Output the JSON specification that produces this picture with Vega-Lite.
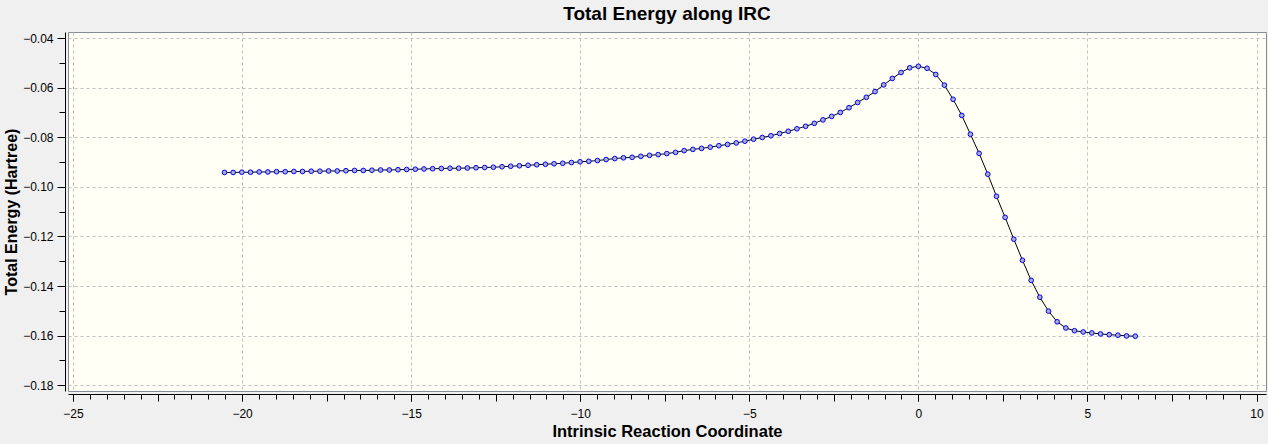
{
  "$schema": "https://vega.github.io/schema/vega-lite/v6.json",
  "width": 1198,
  "height": 359,
  "autosize": "none",
  "padding": {"left": 68, "top": 32, "right": 2, "bottom": 53},
  "background": "#f0f0f0",
  "title": {"text": "Total Energy along IRC", "fontSize": 19, "fontWeight": "bold", "font": "Liberation Sans", "color": "black", "anchor": "middle", "offset": 8},
  "data": {"values": [
    {"x": -20.520, "e": -0.0942}, {"x": -20.264, "e": -0.0942}, {"x": -20.007, "e": -0.0941}, {"x": -19.751, "e": -0.0941},
    {"x": -19.494, "e": -0.0940}, {"x": -19.238, "e": -0.0940}, {"x": -18.981, "e": -0.0939}, {"x": -18.725, "e": -0.0939},
    {"x": -18.468, "e": -0.0938}, {"x": -18.212, "e": -0.0938}, {"x": -17.955, "e": -0.0937}, {"x": -17.699, "e": -0.0937},
    {"x": -17.442, "e": -0.0936}, {"x": -17.186, "e": -0.0936}, {"x": -16.929, "e": -0.0935}, {"x": -16.673, "e": -0.0934},
    {"x": -16.416, "e": -0.0934}, {"x": -16.160, "e": -0.0933}, {"x": -15.903, "e": -0.0932}, {"x": -15.647, "e": -0.0932},
    {"x": -15.390, "e": -0.0931}, {"x": -15.134, "e": -0.0930}, {"x": -14.877, "e": -0.0929}, {"x": -14.621, "e": -0.0928},
    {"x": -14.364, "e": -0.0927}, {"x": -14.108, "e": -0.0926}, {"x": -13.851, "e": -0.0925}, {"x": -13.595, "e": -0.0925},
    {"x": -13.338, "e": -0.0924}, {"x": -13.082, "e": -0.0923}, {"x": -12.825, "e": -0.0922}, {"x": -12.569, "e": -0.0921},
    {"x": -12.312, "e": -0.0919}, {"x": -12.056, "e": -0.0917}, {"x": -11.799, "e": -0.0915}, {"x": -11.543, "e": -0.0913},
    {"x": -11.286, "e": -0.0911}, {"x": -11.030, "e": -0.0909}, {"x": -10.773, "e": -0.0907}, {"x": -10.517, "e": -0.0905},
    {"x": -10.260, "e": -0.0902}, {"x": -10.004, "e": -0.0899}, {"x": -9.747, "e": -0.0897}, {"x": -9.491, "e": -0.0894},
    {"x": -9.234, "e": -0.0890}, {"x": -8.978, "e": -0.0886}, {"x": -8.721, "e": -0.0883}, {"x": -8.465, "e": -0.0881},
    {"x": -8.208, "e": -0.0877}, {"x": -7.952, "e": -0.0873}, {"x": -7.695, "e": -0.0870}, {"x": -7.439, "e": -0.0866},
    {"x": -7.182, "e": -0.0861}, {"x": -6.926, "e": -0.0854}, {"x": -6.669, "e": -0.0849}, {"x": -6.413, "e": -0.0845},
    {"x": -6.156, "e": -0.0840}, {"x": -5.900, "e": -0.0834}, {"x": -5.643, "e": -0.0829}, {"x": -5.387, "e": -0.0823},
    {"x": -5.130, "e": -0.0816}, {"x": -4.874, "e": -0.0808}, {"x": -4.617, "e": -0.0801}, {"x": -4.361, "e": -0.0794},
    {"x": -4.104, "e": -0.0785}, {"x": -3.848, "e": -0.0776}, {"x": -3.591, "e": -0.0766}, {"x": -3.335, "e": -0.0756},
    {"x": -3.078, "e": -0.0744}, {"x": -2.822, "e": -0.0730}, {"x": -2.565, "e": -0.0716}, {"x": -2.309, "e": -0.0700},
    {"x": -2.052, "e": -0.0681}, {"x": -1.796, "e": -0.0660}, {"x": -1.539, "e": -0.0639}, {"x": -1.283, "e": -0.0616},
    {"x": -1.026, "e": -0.0589}, {"x": -0.770, "e": -0.0563}, {"x": -0.513, "e": -0.0539}, {"x": -0.257, "e": -0.0520},
    {"x": 0.000, "e": -0.0514}, {"x": 0.257, "e": -0.0522}, {"x": 0.513, "e": -0.0547}, {"x": 0.770, "e": -0.0590},
    {"x": 1.026, "e": -0.0647}, {"x": 1.283, "e": -0.0712}, {"x": 1.539, "e": -0.0788}, {"x": 1.796, "e": -0.0865},
    {"x": 2.052, "e": -0.0949}, {"x": 2.309, "e": -0.1038}, {"x": 2.565, "e": -0.1123}, {"x": 2.822, "e": -0.1211},
    {"x": 3.078, "e": -0.1296}, {"x": 3.335, "e": -0.1377}, {"x": 3.591, "e": -0.1445}, {"x": 3.848, "e": -0.1501},
    {"x": 4.104, "e": -0.1544}, {"x": 4.361, "e": -0.1569}, {"x": 4.617, "e": -0.1580}, {"x": 4.874, "e": -0.1585},
    {"x": 5.130, "e": -0.1589}, {"x": 5.387, "e": -0.1593}, {"x": 5.643, "e": -0.1596}, {"x": 5.900, "e": -0.1598},
    {"x": 6.156, "e": -0.1601}, {"x": 6.413, "e": -0.1602}
  ]},
  "layer": [
    {
      "mark": {"type": "line", "color": "black", "strokeWidth": 1},
      "encoding": {
        "x": {"field": "x", "type": "quantitative", "scale": {"domain": [-25.148, 10.28], "nice": false, "zero": false},
          "axis": {"orient": "bottom", "values": [-25, -20, -15, -10, -5, 0, 5, 10], "format": "d", "tickSize": 7, "offset": 3, "grid": true,
            "labelFlush": false, "labelOverlap": false, "labelBound": false, "labelPadding": 7, "domain": true,
            "title": "Intrinsic Reaction Coordinate", "titleFontSize": 16.5, "titlePadding": 4}},
        "y": {"field": "e", "type": "quantitative", "scale": {"domain": [-0.1823, -0.03758], "nice": false, "zero": false},
          "axis": {"orient": "left", "values": [-0.18, -0.16, -0.14, -0.12, -0.1, -0.08, -0.06, -0.04], "format": ".2f", "tickSize": 8, "offset": 3, "grid": true,
            "labelFlush": false, "labelOverlap": false, "labelBound": false, "labelPadding": 4, "domain": true,
            "title": "Total Energy (Hartree)", "titleFontSize": 16, "titlePadding": 3}}
      }
    },
    {
      "mark": {"type": "point", "shape": "circle", "filled": true, "fill": "#a9adc6", "stroke": "#0000ff", "strokeWidth": 1, "size": 22, "opacity": 1},
      "encoding": {
        "x": {"field": "x", "type": "quantitative",
          "axis": {"orient": "bottom", "values": [-25, -22.5, -20, -17.5, -15, -12.5, -10, -7.5, -5, -2.5, 0, 2.5, 5, 7.5, 10], "tickSize": 7, "offset": 3, "grid": false, "labels": false, "domain": false, "title": null}},
        "y": {"field": "e", "type": "quantitative",
          "axis": {"orient": "left", "values": [-0.17, -0.15, -0.13, -0.11, -0.09, -0.07, -0.05], "tickSize": 6, "offset": 3, "grid": false, "labels": false, "domain": false, "title": null}}
      }
    },
    {
      "mark": {"type": "point", "opacity": 0},
      "encoding": {
        "x": {"field": "x", "type": "quantitative",
          "axis": {"orient": "bottom", "tickCount": 70, "tickSize": 5, "offset": 3, "grid": false, "labels": false, "domain": false, "title": null}},
        "y": {"field": "e", "type": "quantitative", "axis": null}
      }
    }
  ],
  "resolve": {"axis": {"x": "independent", "y": "independent"}},
  "config": {
    "view": {"fill": "#fffff6", "stroke": "#888c96", "strokeWidth": 1},
    "axis": {"domainColor": "black", "tickColor": "black", "labelColor": "black", "labelFont": "Liberation Sans", "labelFontSize": 12,
      "titleFont": "Liberation Sans", "titleFontSize": 15, "titleFontWeight": "bold", "titleColor": "black",
      "gridColor": "#c0c0c0", "gridDash": [3, 3], "gridOpacity": 1, "gridWidth": 1, "domainWidth": 1, "tickWidth": 1}
  }
}
